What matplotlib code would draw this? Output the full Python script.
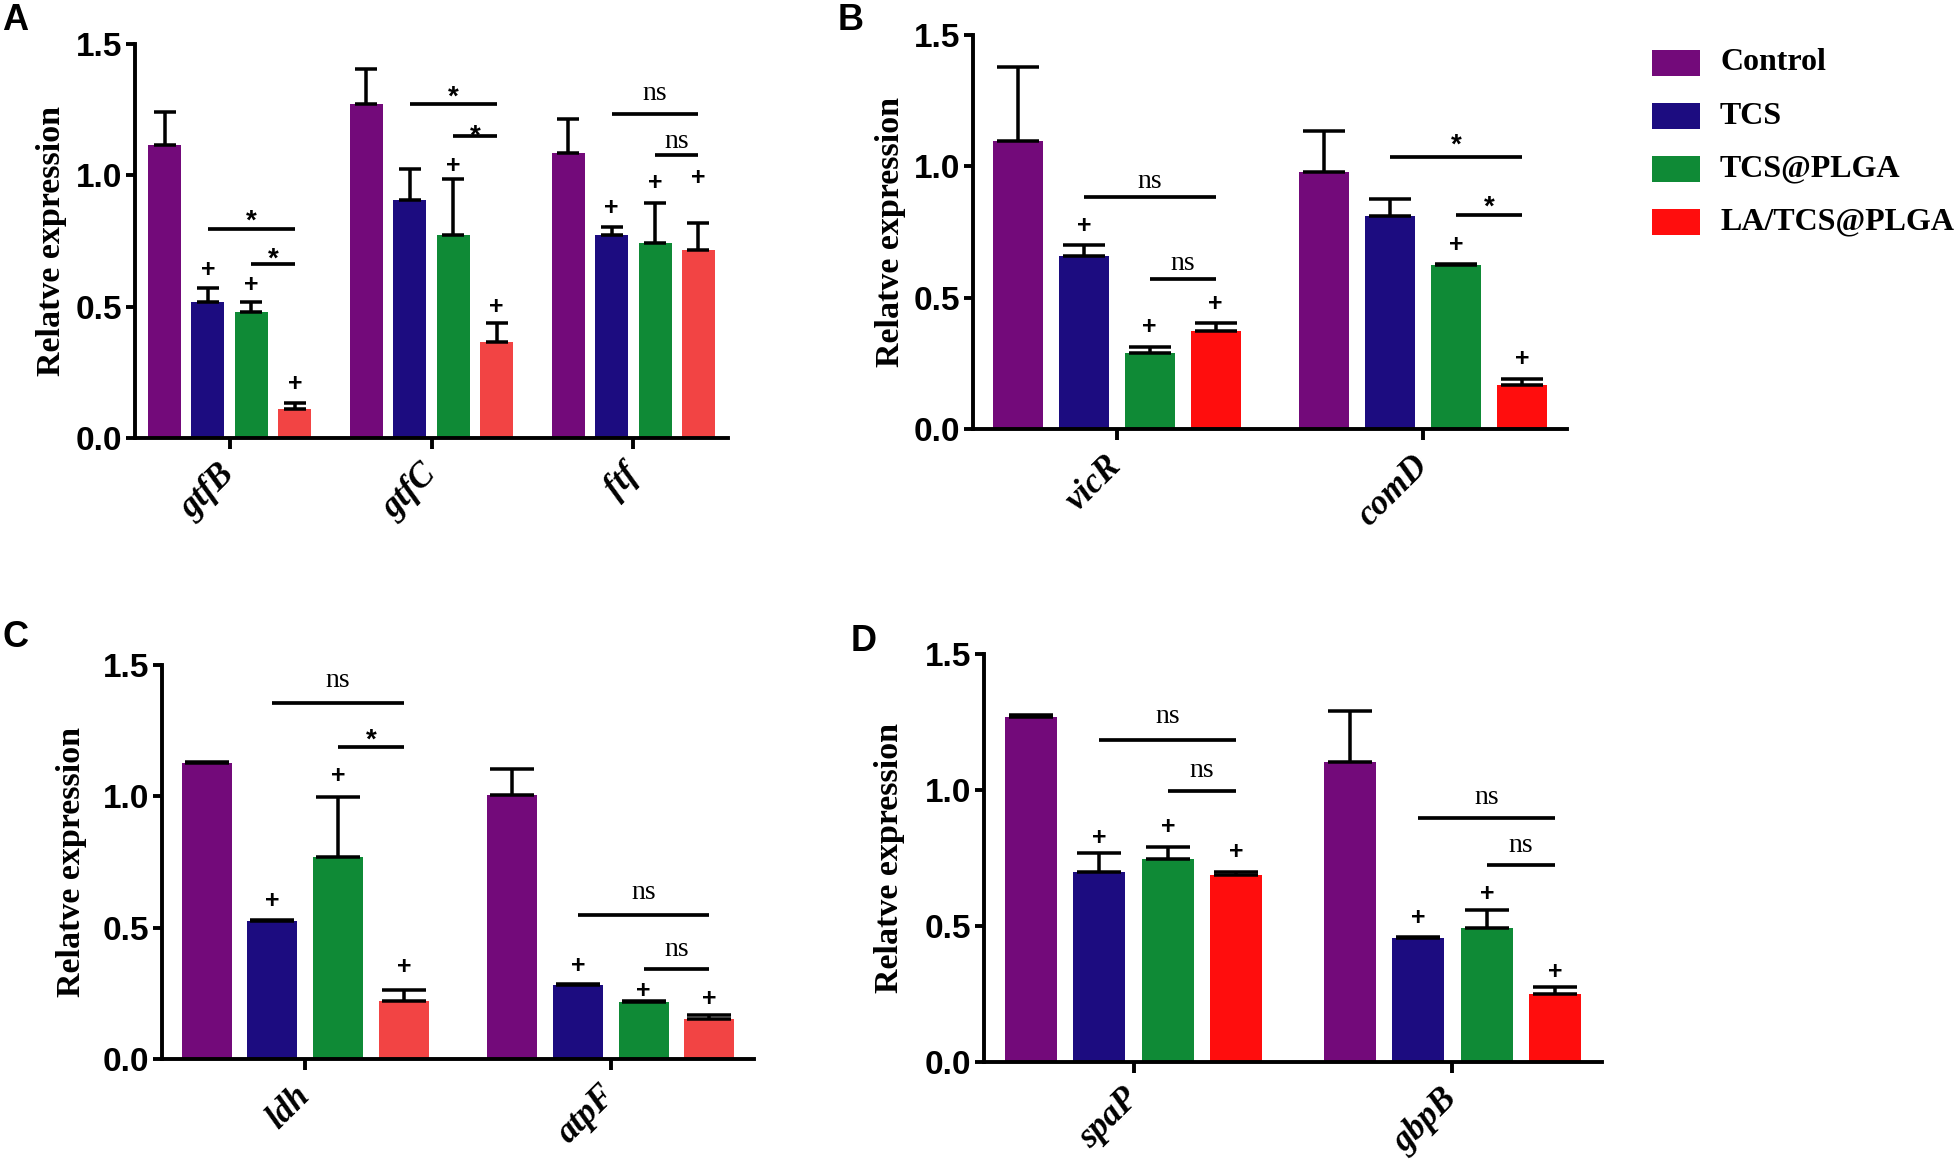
import matplotlib
matplotlib.use("Agg")
import matplotlib.pyplot as plt
import numpy as np
from matplotlib.patches import Rectangle
from matplotlib.transforms import ScaledTranslation

SANS = "Liberation Sans"
SERIF = "Liberation Serif"

GROUPS = ["Control", "TCS", "TCS@PLGA", "LA/TCS@PLGA"]
COLORS_SOFT = ["#730A7A", "#1C0C80", "#0F8A36", "#F24444"]    # panels A, C
COLORS_BRIGHT = ["#730A7A", "#1C0C80", "#0F8A36", "#FF0D0D"]  # panels B, D

# rows = groups (Control, TCS, TCS@PLGA, LA/TCS@PLGA), cols = genes
genes_a = ["gtfB", "gtfC", "ftf"]
mean_a = [[1.115, 1.273, 1.084],
          [0.518, 0.907, 0.772],
          [0.479, 0.774, 0.741],
          [0.112, 0.364, 0.717]]
err_a = [[0.128, 0.132, 0.129],
         [0.053, 0.117, 0.030],
         [0.040, 0.213, 0.155],
         [0.023, 0.073, 0.103]]
# (gene, group, y)
plus_a = [(0, 1, 0.640), (0, 2, 0.584), (0, 3, 0.205),
          (1, 2, 1.037), (1, 3, 0.499),
          (2, 1, 0.877), (2, 2, 0.969), (2, 3, 0.990)]
# (gene, from group, to group, line y, label, label y)
sig_a = [(0, 1, 3, 0.794, "*", 0.860), (0, 2, 3, 0.663, "*", 0.713),
         (1, 1, 3, 1.270, "*", 1.332), (1, 2, 3, 1.148, "*", 1.182),
         (2, 1, 3, 1.235, "ns", 1.310), (2, 2, 3, 1.077, "ns", 1.130)]

genes_b = ["vicR", "comD"]
mean_b = [[1.096, 0.980],
          [0.659, 0.812],
          [0.291, 0.626],
          [0.374, 0.169]]
err_b = [[0.282, 0.154],
         [0.043, 0.063],
         [0.023, 0.004],
         [0.029, 0.021]]
plus_b = [(0, 1, 0.774), (0, 2, 0.390), (0, 3, 0.475),
          (1, 2, 0.702), (1, 3, 0.265)]
sig_b = [(0, 1, 3, 0.883, "ns", 0.941), (0, 2, 3, 0.570, "ns", 0.629),
         (1, 1, 3, 1.037, "*", 1.112), (1, 2, 3, 0.814, "*", 0.878)]

genes_c = ["ldh", "atpF"]
mean_c = [[1.128, 1.005],
          [0.524, 0.280],
          [0.769, 0.216],
          [0.219, 0.152]]
err_c = [[0.004, 0.100],
         [0.004, 0.007],
         [0.227, 0.004],
         [0.044, 0.017]]
plus_c = [(0, 1, 0.601), (0, 2, 1.078), (0, 3, 0.352),
          (1, 1, 0.354), (1, 2, 0.260), (1, 3, 0.230)]
sig_c = [(0, 1, 3, 1.357, "ns", 1.441), (0, 2, 3, 1.189, "*", 1.248),
         (1, 1, 3, 0.547, "ns", 0.635), (1, 2, 3, 0.341, "ns", 0.418)]

genes_d = ["spaP", "gbpB"]
mean_d = [[1.268, 1.104],
          [0.698, 0.456],
          [0.745, 0.494],
          [0.689, 0.251]]
err_d = [[0.007, 0.185],
         [0.072, 0.005],
         [0.047, 0.064],
         [0.011, 0.026]]
plus_d = [(0, 1, 0.825), (0, 2, 0.864), (0, 3, 0.773),
          (1, 1, 0.530), (1, 2, 0.619), (1, 3, 0.330)]
sig_d = [(0, 1, 3, 1.185, "ns", 1.272), (0, 2, 3, 0.996, "ns", 1.071),
         (1, 1, 3, 0.897, "ns", 0.974), (1, 2, 3, 0.723, "ns", 0.795)]

W, H = 1960, 1160
LW = 2.8


def px_rect(left, top, right, bottom):
    return [left / W, 1 - bottom / H, (right - left) / W, (bottom - top) / H]


def draw_panel(ax, genes, means, errs, plus, sig, colors, capsize,
               label_x, gap=4.65, width=0.76, margin=0.3):
    n = len(genes)
    centers = np.arange(n) * gap
    for j, (m, e) in enumerate(zip(means, errs)):
        x = centers + (j - 1.5)
        ax.bar(x, m, width=width, color=colors[j], zorder=2)
        ax.errorbar(x, m, yerr=[np.zeros(n), e], fmt="none", ecolor="black",
                    elinewidth=LW * 0.9, capsize=capsize, capthick=LW * 0.9,
                    zorder=3)

    for gi, j, y in plus:
        ax.text(centers[gi] + j - 1.5, y, "+", ha="center", va="center",
                fontsize=18, fontweight="bold", family=SANS)

    for gi, j0, j1, y, label, ly in sig:
        x0 = centers[gi] + j0 - 1.5
        x1 = centers[gi] + j1 - 1.5
        ax.plot([x0, x1], [y, y], color="black", lw=LW * 0.95,
                solid_capstyle="butt", zorder=3)
        if label == "*":
            ax.annotate("*", (0.5 * (x0 + x1), ly), xytext=(0, -6.5),
                        textcoords="offset points", ha="center", va="center",
                        fontsize=20, fontweight="bold", family=SANS)
        else:
            ax.text(0.5 * (x0 + x1), ly, label, ha="center", va="center",
                    fontsize=20, family=SERIF)

    ax.set_xlim(-1.5 - width / 2 - margin, centers[-1] + 1.5 + width / 2 + margin)
    ax.set_ylim(0, 1.5)
    ax.set_yticks([0, 0.5, 1.0, 1.5])
    ax.set_yticklabels(["0.0", "0.5", "1.0", "1.5"], fontsize=24,
                       fontweight="bold", family=SANS)
    ax.set_xticks(centers)
    ax.set_xticklabels(genes, rotation=45, ha="right", va="center",
                       rotation_mode="anchor", fontsize=25,
                       fontweight="bold", style="italic", family=SERIF)
    offset = ScaledTranslation(11 / 100, 0, ax.figure.dpi_scale_trans)
    for lab in ax.get_xticklabels():
        lab.set_transform(lab.get_transform() + offset)

    for side in ("top", "right"):
        ax.spines[side].set_visible(False)
    for side in ("left", "bottom"):
        ax.spines[side].set_linewidth(LW)
    ax.tick_params(axis="y", length=6.5, width=LW, pad=3)
    ax.tick_params(axis="x", length=8, width=LW, pad=15)

    ax.set_ylabel("Relatve expression", fontsize=24.5, fontweight="bold",
                  family=SERIF)
    ax.yaxis.set_label_coords(label_x, 0.5)


fig = plt.figure(figsize=(W / 100, H / 100), dpi=100)

ax_a = fig.add_axes(px_rect(135, 44, 728, 438))
ax_b = fig.add_axes(px_rect(973, 35, 1567, 429))
ax_c = fig.add_axes(px_rect(162, 665, 754, 1059))
ax_d = fig.add_axes(px_rect(984, 654, 1602, 1062))

draw_panel(ax_a, genes_a, mean_a, err_a, plus_a, sig_a, COLORS_SOFT, 8, -0.114)
draw_panel(ax_b, genes_b, mean_b, err_b, plus_b, sig_b, COLORS_BRIGHT, 15, -0.113)
draw_panel(ax_c, genes_c, mean_c, err_c, plus_c, sig_c, COLORS_SOFT, 16, -0.127)
draw_panel(ax_d, genes_d, mean_d, err_d, plus_d, sig_d, COLORS_BRIGHT, 16, -0.128)

# panel letters
for letter, (x, y) in {"A": (2, 3), "B": (838, 3), "C": (2, 620),
                       "D": (851, 624)}.items():
    fig.text(x / W, 1 - y / H, letter, ha="left", va="top", fontsize=26,
             fontweight="bold", family=SANS)

# legend
for i, (name, color) in enumerate(zip(GROUPS, COLORS_BRIGHT)):
    yc = 63 + i * 53
    fig.add_artist(Rectangle((1652 / W, 1 - (yc + 13) / H), 48 / W, 26 / H,
                             transform=fig.transFigure, facecolor=color,
                             edgecolor="none"))
    fig.text(1720 / W, 1 - yc / H, name, ha="left", va="center", fontsize=23,
             fontweight="bold", family=SERIF)

fig.savefig("out.png", dpi=100)
